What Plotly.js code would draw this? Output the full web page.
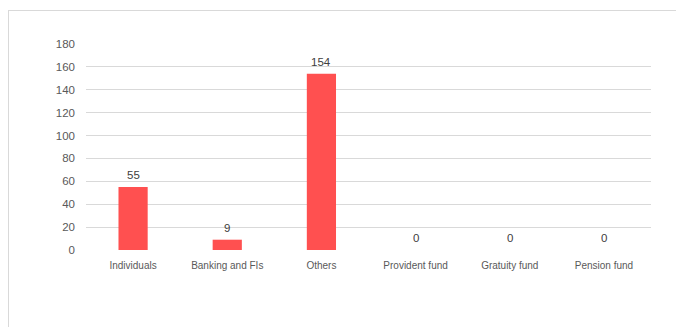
<!DOCTYPE html>
<html><head><meta charset="utf-8">
<script src="https://cdn.plot.ly/plotly-3.0.1.min.js"></script>
<style>
html,body{margin:0;padding:0;background:#fff;}
#wrap{position:absolute;left:0;top:0;width:676px;height:327px;}
#frame{position:absolute;left:8px;top:10px;width:700px;height:400px;border-top:1px solid #d9d9d9;border-left:1px solid #d9d9d9;}
#chart{position:absolute;left:0;top:0;width:676px;height:327px;}
</style></head>
<body>
<div id="wrap"><div id="frame"></div><div id="chart"></div></div>
<script>
const categories = ["Individuals", "Banking and FIs", "Others", "Provident fund", "Gratuity fund", "Pension fund"];
const values = [55, 9, 154, 0, 0, 0];
const yTicks = [0, 20, 40, 60, 80, 100, 120, 140, 160, 180];

const labels = categories.map((c, i) => ({
  x: c, y: values[i], text: String(values[i]),
  xref: 'x', yref: 'y', showarrow: false,
  yanchor: 'bottom', yshift: 4,
  font: {family: 'Liberation Sans, Arial, sans-serif', size: 11.5, color: '#404040'}
}));

Plotly.newPlot('chart', [{
  type: 'bar',
  x: categories,
  y: values,
  marker: {color: '#FF5050'},
  width: 0.31,
  hoverinfo: 'none'
}], {
  width: 676, height: 327,
  margin: {l: 86, r: 25, t: 44, b: 77, pad: 0},
  paper_bgcolor: 'rgba(0,0,0,0)',
  plot_bgcolor: 'rgba(0,0,0,0)',
  showlegend: false,
  annotations: labels,
  font: {family: 'Liberation Sans, Arial, sans-serif', color: '#595959'},
  xaxis: {
    type: 'category',
    showgrid: false, zeroline: false, showline: false,
    ticks: '', tickfont: {size: 10, color: '#595959'},
    ticklabelstandoff: 8
  },
  yaxis: {
    range: [0, 180], tickvals: yTicks, ticktext: yTicks.map(String),
    showgrid: true, gridcolor: '#d9d9d9', gridwidth: 1,
    zeroline: false, showline: false, ticks: '',
    tickfont: {size: 11.5, color: '#595959'},
    ticklabelstandoff: 10
  }
}, {staticPlot: true});
</script>
</body></html>
